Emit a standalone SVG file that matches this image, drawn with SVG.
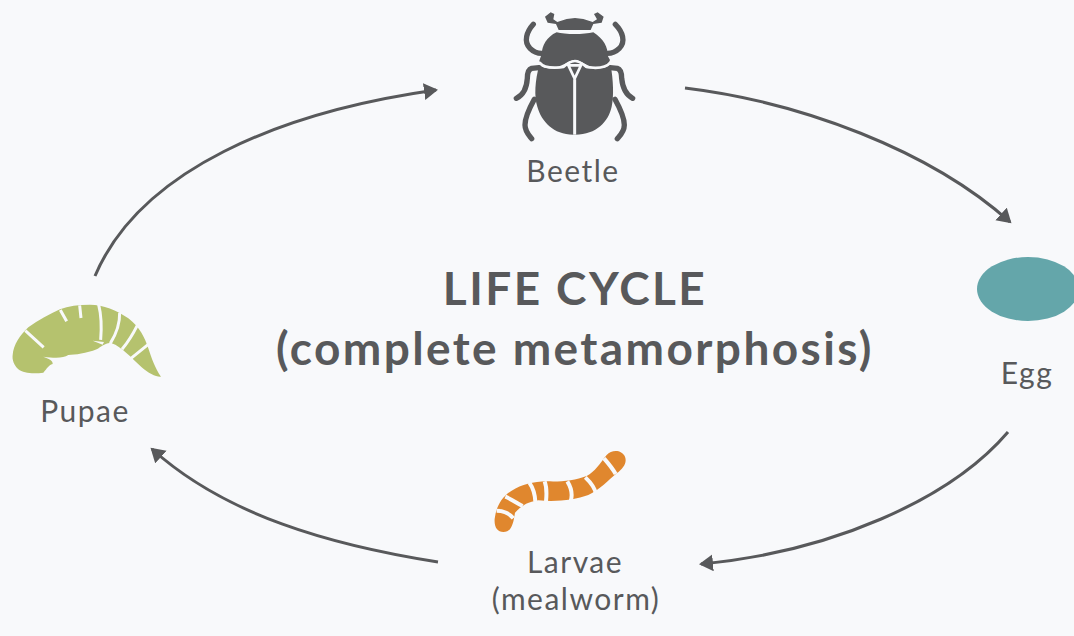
<svg xmlns="http://www.w3.org/2000/svg" width="1074" height="636" viewBox="0 0 1074 636">
<style>
.lbl{font-family:"Lato","Liberation Sans",sans-serif;font-size:30px;fill:#58595b;text-anchor:middle;letter-spacing:1.5px}
.ttl{font-family:"Lato","Liberation Sans",sans-serif;font-size:46px;font-weight:700;fill:#58595b;text-anchor:middle;letter-spacing:2.4px}
.c{fill:none;stroke:#58595b;stroke-width:3;marker-end:url(#a)}
.leg{fill:none;stroke:#58595b;stroke-width:16;stroke-linecap:round;stroke-linejoin:round}
.gap{fill:none;stroke:#f8f9fb;stroke-width:12;stroke-linecap:butt}
</style>
<defs><marker id="a" markerUnits="userSpaceOnUse" markerWidth="18" markerHeight="20" refX="12" refY="8.5" orient="auto"><path d="M0 0L14 8.5L0 17Z" fill="#58595b"/></marker></defs>
<rect width="1074" height="636" fill="#f8f9fb"/>
<g id="connectors">
<path class="c" d="M95 276C140 170 280 112 436 90"/>
<path class="c" d="M685 88C800 102 930 150 1010 222"/>
<path class="c" d="M1008 432C950 500 830 552 701 564"/>
<path class="c" d="M438 562C330 545 225 515 152 449"/>
</g>
<g id="beetle">
<g transform="translate(500 0) scale(.3333)">
<path class="leg" d="M100 73C80 95 70 125 90 145C100 155 112 160 125 160M346 73C368 95 378 125 358 145C348 155 335 160 322 160"/>
<path class="leg" d="M117 203L95 205C85 208 82 220 82 235C80 265 70 285 49 295M330 203L352 205C362 208 365 220 365 235C368 265 378 285 398 295"/>
<path class="leg" d="M103 298C88 325 75 355 75 375C75 395 88 407 95 416M345 298C360 325 373 355 373 375C373 395 360 407 352 416"/>
<path d="M135 50L152 37L163 42L160 58L172 66L200 57L225 54L250 57L278 66L291 58L282 42L293 37L311 50L305 68L280 72L272 90H176L168 72L143 68Z" fill="#58595b"/>
<path d="M170 97C195 104 252 104 280 97C310 115 326 145 322 165L330 180C325 195 310 203 290 202C265 204 245 180 225 180C205 180 185 204 155 202C135 203 122 193 118 182L126 160C125 140 140 110 170 97Z" fill="#58595b"/>
<path d="M118 195C130 205 150 208 190 204C200 195 210 186 225 186C240 186 250 197 258 204C290 208 315 205 332 195C340 240 342 290 335 320C325 365 290 403 226 404H220C160 403 125 365 112 320C102 290 105 240 118 195Z" fill="#58595b"/>
<path class="gap" d="M118 187C130 202 155 206 190 201C200 192 210 183 225 183C240 183 250 194 260 201C290 206 318 203 332 187" style="stroke-width:8"/>
<path d="M205 196L243 196L224 236Z" fill="#58595b" stroke="#f8f9fb" stroke-width="8"/>
<path class="gap" d="M224 238L224 404" style="stroke-width:9"/>
</g>
<text class="lbl" x="573" y="182">Beetle</text>
</g>
<g id="egg">
<ellipse cx="1028" cy="289" rx="51" ry="32" fill="#64a6aa"/>
<text class="lbl" x="1027" y="384">Egg</text>
</g>
<g id="larvae">
<g transform="translate(480 440) scale(.3333)">
<path d="M70 276C52 276 42 262 44 236C48 204 62 172 95 152C125 133 160 125 200 124C240 126 285 122 320 108C345 95 360 70 380 45C395 28 425 28 435 50C442 68 430 85 410 100C385 120 360 150 325 165C285 180 230 186 175 181C140 186 122 200 105 218C100 250 95 276 70 276Z" fill="#e0872e"/>
<path class="gap" d="M76 170C95 178 115 192 128 198M50 212C70 212 90 222 100 235M148 128C160 145 165 165 166 185M194 124C200 140 200 165 198 185M262 124C275 145 278 165 272 184M316 112C335 130 345 145 348 162M372 55C385 70 398 85 407 102"/>
</g>
<text class="lbl" x="575" y="573">Larvae</text>
<text class="lbl" x="576" y="610">(mealworm)</text>
</g>
<g id="pupae">
<g transform="translate(0 290) scale(.3333)">
<path d="M38 195C40 165 60 135 85 112C115 90 150 72 180 58C205 48 235 44 270 44C310 44 350 60 385 85C420 112 435 145 445 175C455 205 465 235 483 260C470 262 445 250 425 232C395 205 365 170 335 160C320 155 305 170 290 178C260 190 225 195 205 195C190 205 165 205 130 200C145 205 160 212 158 222C145 226 142 235 130 248C100 252 70 250 55 238C42 225 36 210 38 195Z" fill="#b5c26e"/>
<path class="gap" style="stroke-width:9" d="M76 122L131 172M181 60L200 94M239 46L243 84M296 44C305 80 305 115 302 150M359 68C360 105 350 130 331 160M412 106C400 130 385 155 366 178M444 164L392 206"/>
<path d="M278 152L312 156L308 164Z" fill="#f8f9fb"/>
</g>
<text class="lbl" x="85" y="422">Pupae</text>
</g>
<g id="title">
<text class="ttl" x="575" y="305">LIFE CYCLE</text>
<text class="ttl" x="575" y="365">(complete metamorphosis)</text>
</g>
</svg>
